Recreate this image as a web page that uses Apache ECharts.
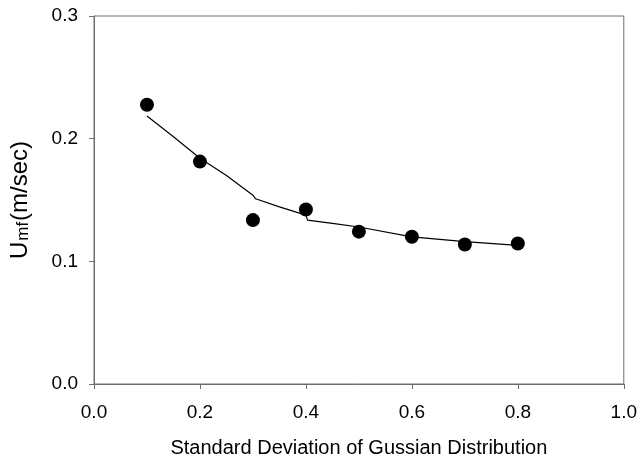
<!DOCTYPE html>
<html>
<head>
<meta charset="utf-8">
<script src="https://cdn.jsdelivr.net/npm/echarts@6/dist/echarts.min.js"></script>
<style>html,body{margin:0;padding:0;background:#fff;}#c{width:640px;height:463px;}</style>
</head>
<body>
<div id="c"></div>
<script>
// Measured points
const sdValues = [0.1, 0.2, 0.3, 0.4, 0.5, 0.6, 0.7, 0.8];
const umfValues = [0.2277, 0.1813, 0.1336, 0.1423, 0.1242, 0.1200, 0.1137, 0.1145];
// Fitted / model curve
const fitX = [0.1, 0.15, 0.2, 0.25, 0.3, 0.305, 0.35, 0.4, 0.403, 0.45, 0.5, 0.6, 0.7, 0.8];
const fitY = [0.2185, 0.2015, 0.184, 0.170, 0.1539, 0.151, 0.1444, 0.1377, 0.1336, 0.131, 0.128, 0.120, 0.116, 0.113];
// Tick labels
const xTicks = [0.0, 0.2, 0.4, 0.6, 0.8, 1.0];
const yTicks = [0.0, 0.1, 0.2, 0.3];

const chart = echarts.init(document.getElementById('c'), null, {renderer: 'canvas'});
const font = 'Liberation Sans, Arial, sans-serif';
const axisColor = '#6e6e6e';
chart.setOption({
  animation: false,
  backgroundColor: '#fff',
  grid: {left: 93, right: 15, top: 16, bottom: 76, show: true, borderColor: axisColor, borderWidth: 1, containLabel: false},
  xAxis: {
    type: 'value', min: xTicks[0], max: xTicks[xTicks.length - 1], interval: 0.2,
    name: 'Standard Deviation of Gussian Distribution',
    nameLocation: 'middle', nameGap: 54,
    nameTextStyle: {fontFamily: font, fontSize: 20, color: '#000'},
    axisLine: {show: true, onZero: false, lineStyle: {color: axisColor, width: 1}},
    axisTick: {show: true, inside: false, length: 5, lineStyle: {color: axisColor}},
    axisLabel: {margin: 19, fontFamily: font, fontSize: 19, color: '#000', formatter: v => v.toFixed(1)},
    splitLine: {show: false}
  },
  yAxis: {
    type: 'value', min: yTicks[0], max: yTicks[yTicks.length - 1], interval: 0.1,
    name: '{a|U}{b|mf}{a|(m/sec)}',
    nameLocation: 'middle', nameGap: 62, nameRotate: 90,
    nameTextStyle: {
      fontFamily: font, color: '#000',
      rich: {
        a: {fontFamily: font, fontSize: 24, lineHeight: 26, color: '#000', verticalAlign: 'bottom'},
        b: {fontFamily: font, fontSize: 17, lineHeight: 17, color: '#000', verticalAlign: 'bottom', padding: [0, 1, 0, 1]}
      }
    },
    axisLine: {show: true, onZero: false, lineStyle: {color: axisColor, width: 1}},
    axisTick: {show: true, inside: false, length: 5, lineStyle: {color: axisColor}},
    axisLabel: {margin: 16, fontFamily: font, fontSize: 19, color: '#000', formatter: v => v.toFixed(1)},
    splitLine: {show: false}
  },
  series: [
    {
      type: 'line',
      data: fitX.map((x, i) => [x, fitY[i]]),
      showSymbol: false, symbol: 'none',
      lineStyle: {color: '#000', width: 1.2},
      z: 2
    },
    {
      type: 'scatter',
      data: sdValues.map((x, i) => [x, umfValues[i]]),
      symbol: 'circle', symbolSize: 14,
      itemStyle: {color: '#000', opacity: 1},
      z: 3
    }
  ]
});
</script>
</body>
</html>
